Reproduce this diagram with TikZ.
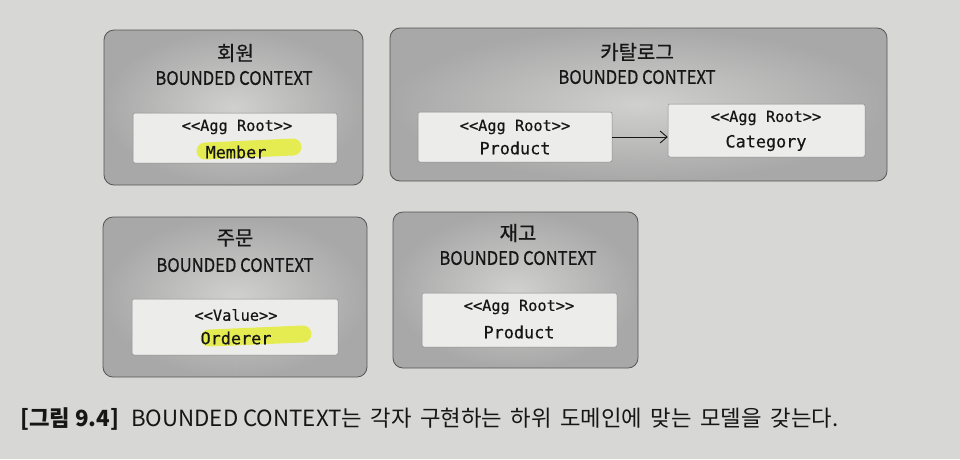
\documentclass[tikz,border=0pt]{standalone}
\usepackage{fontspec}
\setmainfont{Noto Sans CJK KR}
\newfontfamily\condf[FakeStretch=0.9,FakeBold=0.8]{Noto Sans CJK KR}
\newfontfamily\titlef[FakeBold=0.6]{Noto Sans CJK KR}
\newfontfamily\monof[FakeBold=0.5]{DejaVu Sans Mono}
\usetikzlibrary{arrows.meta}
\definecolor{paper}{HTML}{D7D7D5}
\definecolor{boxedge}{HTML}{555555}
\definecolor{boxin}{HTML}{D0D0CF}
\definecolor{boxout}{HTML}{A8A8A8}
\definecolor{innerfill}{HTML}{ECECEB}
\definecolor{hilite}{HTML}{E4EC38}
\definecolor{ink}{HTML}{161616}
\tikzset{
  ctxbox/.style={draw=boxedge, line width=0.8pt, rounded corners=10pt, inner color=boxin, outer color=boxout, inner sep=0pt},
  aggbox/.style={draw=boxedge!70, line width=0.5pt, rounded corners=2pt, fill=innerfill, inner sep=0pt},
  titletxt/.style={text=ink, font=\titlef\fontsize{20}{21}\selectfont, inner sep=0pt},
  bctxt/.style={text=ink, font=\condf\fontsize{18.5}{20}\selectfont, inner sep=0pt},
  sterotxt/.style={text=ink, font=\monof\fontsize{15.3}{16}\selectfont, inner sep=0pt},
  nametxt/.style={text=ink, font=\monof\fontsize{16.8}{18}\selectfont, inner sep=0pt},
  hl/.style={hilite, line width=17pt, opacity=0.85, line cap=round},
  link/.style={draw=ink, line width=0.9pt, -{Straight Barb[length=7pt,width=12pt,line width=0.9pt]}}
}
\begin{document}
\begin{tikzpicture}[x=1pt,y=-1pt]
\useasboundingbox (0,0) rectangle (960,459);
\fill[paper] (0,0) rectangle (960,459);

% outer bounded context boxes
\node[ctxbox, minimum width=259pt, minimum height=155pt] (c1) at (233.5,107.5) {};
\node[ctxbox, minimum width=497pt, minimum height=153pt] (c2) at (638.5,104.5) {};
\node[ctxbox, minimum width=264pt, minimum height=160pt] (c3) at (235,297) {};
\node[ctxbox, minimum width=245pt, minimum height=156pt] (c4) at (515.5,290) {};

% titles
\node[titletxt] (t1) at (235.5,53) {회원};
\node[bctxt] (b1) at (234,78) {BOUNDED CONTEXT};
\node[titletxt] (t2) at (637,52) {카탈로그};
\node[bctxt] (b2) at (637,77) {BOUNDED CONTEXT};
\node[titletxt] (t3) at (235,238) {주문};
\node[bctxt] (b3) at (235,265) {BOUNDED CONTEXT};
\node[titletxt] (t4) at (518,233) {재고};
\node[bctxt] (b4) at (518,258) {BOUNDED CONTEXT};

% inner boxes
\node[aggbox, minimum width=204pt, minimum height=50pt] (i1) at (235,138) {};
\node[aggbox, minimum width=194pt, minimum height=50pt] (p2) at (515,137) {};
\node[aggbox, minimum width=197pt, minimum height=53pt] (k2) at (766.5,130.5) {};
\node[aggbox, minimum width=206pt, minimum height=56pt] (i3) at (235,327) {};
\node[aggbox, minimum width=195pt, minimum height=54pt] (p4) at (519.5,320) {};

% highlights
\draw[hl] (205,151) -- (293,147);
\draw[hl] (209,338) -- (303,334);

% inner texts
\node[sterotxt] (s1) at (237,127) {<{}<Agg Root>{}>};
\node[nametxt] (n1) at (236,152) {Member};
\node[sterotxt] (s2) at (515,127) {<{}<Agg Root>{}>};
\node[nametxt] (n2) at (515,148) {Product};
\node[sterotxt] (s3) at (766,118) {<{}<Agg Root>{}>};
\node[nametxt] (n3) at (766,143) {Category};
\node[sterotxt] (s4) at (236,315) {<{}<Value>{}>};
\node[nametxt] (n4) at (236,338) {Orderer};
\node[sterotxt] (s5) at (519,307) {<{}<Agg Root>{}>};
\node[nametxt] (n5) at (519,332) {Product};

% connector
\draw[link] (p2.east |- 0,137) -- (k2.west |- 0,137);

% caption
\node[anchor=west, text=ink, inner sep=0pt, font=\fontsize{22.3}{24}\selectfont] (cap) at (20,419)
  {{\bfseries [그림 9.4]}\hspace{12pt}BOUNDED CONTEXT는\spaceskip=8.5pt\ 각자 구현하는 하위 도메인에 맞는 모델을 갖는다.};
\end{tikzpicture}
\end{document}
